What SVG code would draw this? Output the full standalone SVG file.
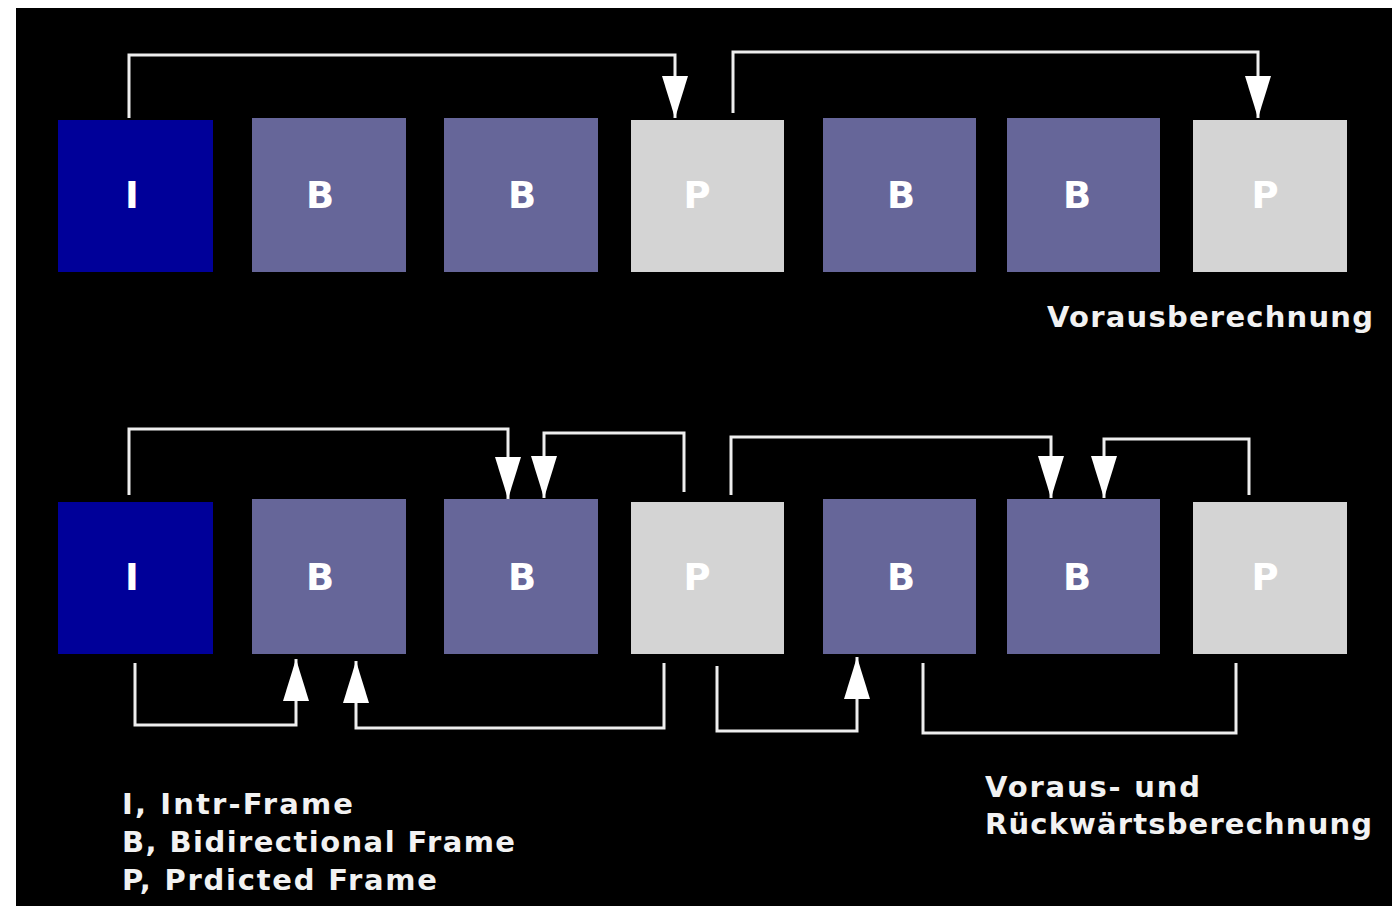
<svg xmlns="http://www.w3.org/2000/svg" width="1392" height="906" viewBox="0 0 1392 906">
  <style>
    .I { fill: #000099; }
    .B { fill: #666699; }
    .P { fill: #d4d4d4; }
    .lbl { font-family: "DejaVu Sans", "Liberation Sans", sans-serif; font-weight: bold; font-size: 37px; fill: #ffffff; text-anchor: middle; }
    .txt { font-family: "DejaVu Sans", "Liberation Sans", sans-serif; font-weight: bold; font-size: 29px; fill: #f2f2f2; }
    .con { fill: none; stroke: #eeeeee; stroke-width: 3; }
  </style>
  <defs>
    <marker id="ah" viewBox="0 0 42 26" refX="42" refY="13" markerWidth="42" markerHeight="26" orient="auto" markerUnits="userSpaceOnUse">
      <path d="M0,0 L42,13 L0,26 z" fill="#ffffff"/>
    </marker>
  </defs>
  <rect x="0" y="0" width="1392" height="906" fill="#ffffff"/>
  <rect x="16" y="8" width="1376" height="898" fill="#000000"/>

  <!-- top row -->
  <g id="t-I"><rect class="I" x="58" y="120" width="155" height="152"/><text class="lbl" x="132" y="208">I</text></g>
  <g id="t-B1"><rect class="B" x="252" y="118" width="154" height="154"/><text class="lbl" x="320" y="208">B</text></g>
  <g id="t-B2"><rect class="B" x="444" y="118" width="154" height="154"/><text class="lbl" x="522" y="208">B</text></g>
  <g id="t-P1"><rect class="P" x="631" y="120" width="153" height="152"/><text class="lbl" x="697" y="208">P</text></g>
  <g id="t-B3"><rect class="B" x="823" y="118" width="153" height="154"/><text class="lbl" x="901" y="208">B</text></g>
  <g id="t-B4"><rect class="B" x="1007" y="118" width="153" height="154"/><text class="lbl" x="1077" y="208">B</text></g>
  <g id="t-P2"><rect class="P" x="1193" y="120" width="154" height="152"/><text class="lbl" x="1265" y="208">P</text></g>

  <!-- bottom row -->
  <g id="b-I"><rect class="I" x="58" y="502" width="155" height="152"/><text class="lbl" x="132" y="590">I</text></g>
  <g id="b-B1"><rect class="B" x="252" y="499" width="154" height="155"/><text class="lbl" x="320" y="590">B</text></g>
  <g id="b-B2"><rect class="B" x="444" y="499" width="154" height="155"/><text class="lbl" x="522" y="590">B</text></g>
  <g id="b-P1"><rect class="P" x="631" y="502" width="153" height="152"/><text class="lbl" x="697" y="590">P</text></g>
  <g id="b-B3"><rect class="B" x="823" y="499" width="153" height="155"/><text class="lbl" x="901" y="590">B</text></g>
  <g id="b-B4"><rect class="B" x="1007" y="499" width="153" height="155"/><text class="lbl" x="1077" y="590">B</text></g>
  <g id="b-P2"><rect class="P" x="1193" y="502" width="154" height="152"/><text class="lbl" x="1265" y="590">P</text></g>

  <g id="connectors">
    <path class="con" d="M129,118 V55 H675 V118" marker-end="url(#ah)"/>
    <path class="con" d="M733,113 V52 H1258 V118" marker-end="url(#ah)"/>

    <path class="con" d="M129,495 V429 H508 V499" marker-end="url(#ah)"/>
    <path class="con" d="M684,492 V433 H544 V498" marker-end="url(#ah)"/>
    <path class="con" d="M731,495 V437 H1051 V498" marker-end="url(#ah)"/>
    <path class="con" d="M1249,495 V439 H1104 V498" marker-end="url(#ah)"/>

    <path class="con" d="M135,663 V725 H296 V659" marker-end="url(#ah)"/>
    <path class="con" d="M664,663 V728 H356 V661" marker-end="url(#ah)"/>
    <path class="con" d="M717,666 V731 H857 V657" marker-end="url(#ah)"/>
    <path class="con" d="M923,663 V733 H1236 V663"/>
  </g>

  <g id="labels">
    <text class="txt" x="1047" y="327" textLength="326" lengthAdjust="spacing">Vorausberechnung</text>
    <text class="txt" x="985" y="797" textLength="215" lengthAdjust="spacing">Voraus- und</text>
    <text class="txt" x="985" y="834" textLength="387" lengthAdjust="spacing">Rückwärtsberechnung</text>
    <text class="txt" x="122" y="814" textLength="231" lengthAdjust="spacing">I, Intr-Frame</text>
    <text class="txt" x="122" y="852" textLength="393" lengthAdjust="spacing">B, Bidirectional Frame</text>
    <text class="txt" x="122" y="890" textLength="315" lengthAdjust="spacing">P, Prdicted Frame</text>
  </g>
</svg>
